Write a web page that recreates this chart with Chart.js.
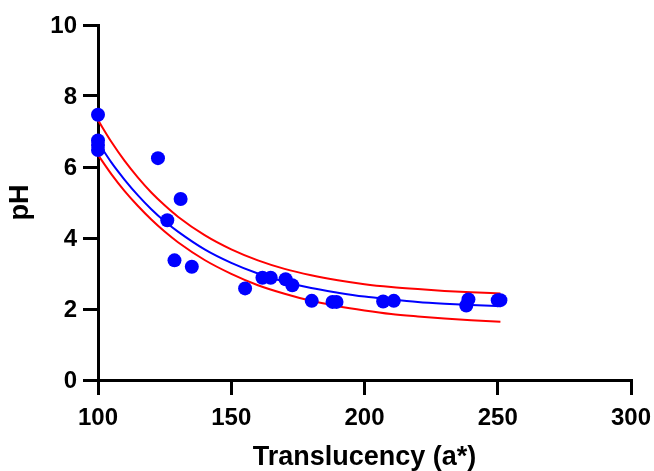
<!DOCTYPE html>
<html>
<head>
<meta charset="utf-8">
<script src="https://cdn.jsdelivr.net/npm/chart.js@4"></script>
<style>
  body { margin: 0; background: #fff; }
</style>
</head>
<body>
<canvas id="chartPh" width="654" height="471"></canvas>
<script>
// measured samples
const translucency = [100, 100, 100, 100, 122.5, 131, 126, 128.7, 135.2, 155.2, 161.7, 164.8,
  170.4, 172.9, 180.2, 188, 189.5, 207, 211, 239, 238.2, 250, 251];
const phValues = [7.47, 6.75, 6.62, 6.48, 6.25, 5.1, 4.5, 3.37, 3.19, 2.58, 2.88, 2.88,
  2.84, 2.67, 2.23, 2.2, 2.2, 2.21, 2.23, 2.27, 2.1, 2.25, 2.25];

// fitted curve and its band, read at these x positions
const curveX = [100, 105, 110, 115, 120, 125, 130, 140, 150, 160, 170, 180, 190, 200, 210, 220, 230, 240, 251];
const fitY = [6.70, 6.13, 5.64, 5.20, 4.81, 4.47, 4.18, 3.68, 3.30, 3.00, 2.77, 2.59, 2.46, 2.35, 2.27, 2.20, 2.15, 2.11, 2.08];
const upperY = [7.32, 6.71, 6.17, 5.70, 5.28, 4.92, 4.60, 4.08, 3.68, 3.37, 3.13, 2.95, 2.81, 2.70, 2.62, 2.56, 2.51, 2.47, 2.44];
const lowerY = [6.34, 5.80, 5.32, 4.90, 4.52, 4.18, 3.88, 3.38, 2.99, 2.67, 2.43, 2.23, 2.08, 1.96, 1.86, 1.79, 1.73, 1.68, 1.64];

const xTicks = [100, 150, 200, 250, 300];
const yTicks = [0, 2, 4, 6, 8, 10];

const toXY = (xs, ys) => xs.map((x, i) => ({ x: x, y: ys[i] }));

const curveStyle = (color) => ({
  showLine: true,
  borderColor: color,
  backgroundColor: color,
  borderWidth: 2,
  pointRadius: 0,
  cubicInterpolationMode: "monotone",
  clip: false,
});

const tickFont = { family: "'Liberation Sans', Arial, sans-serif", size: 24, weight: "bold" };
const titleFont = { family: "'Liberation Sans', Arial, sans-serif", size: 27, weight: "bold", lineHeight: 1 };

const axisGrid = {
  drawOnChartArea: false,
  color: "#000",
  lineWidth: 3,
  tickLength: 15,
};

const dataPh = {
  datasets: [
    {
      label: "pH",
      data: toXY(translucency, phValues),
      backgroundColor: "#0000ff",
      borderColor: "#0000ff",
      pointRadius: 7,
      pointBorderWidth: 0,
      clip: false,
      order: 0,
    },
    Object.assign({ label: "Fit", data: toXY(curveX, fitY), order: 1 }, curveStyle("#0000ff")),
    Object.assign({ label: "Upper", data: toXY(curveX, upperY), order: 2 }, curveStyle("#ff0000")),
    Object.assign({ label: "Lower", data: toXY(curveX, lowerY), order: 2 }, curveStyle("#ff0000")),
  ],
};

const configPh = {
  type: "scatter",
  data: dataPh,
  options: {
    responsive: false,
    animation: false,
    layout: { padding: { top: 25, right: 23, left: 0, bottom: 0 } },
    plugins: { legend: { display: false }, tooltip: { enabled: false } },
    scales: {
      x: {
        type: "linear",
        min: 100,
        max: 300,
        afterBuildTicks: (s) => { s.ticks = xTicks.map((v) => ({ value: v })); },
        afterFit: (s) => {
          s.height = 91;
          s.paddingLeft = 0;
          s.paddingRight = 0;
        },
        border: { color: "#000", width: 3 },
        grid: axisGrid,
        ticks: { color: "#000", font: tickFont, padding: 9, maxRotation: 0 },
        title: { display: true, text: "Translucency (a*)", color: "#000", font: titleFont, padding: 0 },
      },
      y: {
        type: "linear",
        min: 0,
        max: 10,
        afterBuildTicks: (s) => { s.ticks = yTicks.map((v) => ({ value: v })); },
        afterFit: (s) => {
          s.width = 98;
          s.paddingTop = 0;
          s.paddingBottom = 0;
        },
        border: { color: "#000", width: 3 },
        grid: axisGrid,
        ticks: { color: "#000", font: tickFont, padding: 6, labelOffset: 1 },
        title: { display: true, text: "pH", color: "#000", font: titleFont, padding: { top: 7, bottom: 0 } },
      },
    },
  },
};

let chartPh = new Chart(document.getElementById("chartPh"), configPh);
</script>
</body>
</html>
